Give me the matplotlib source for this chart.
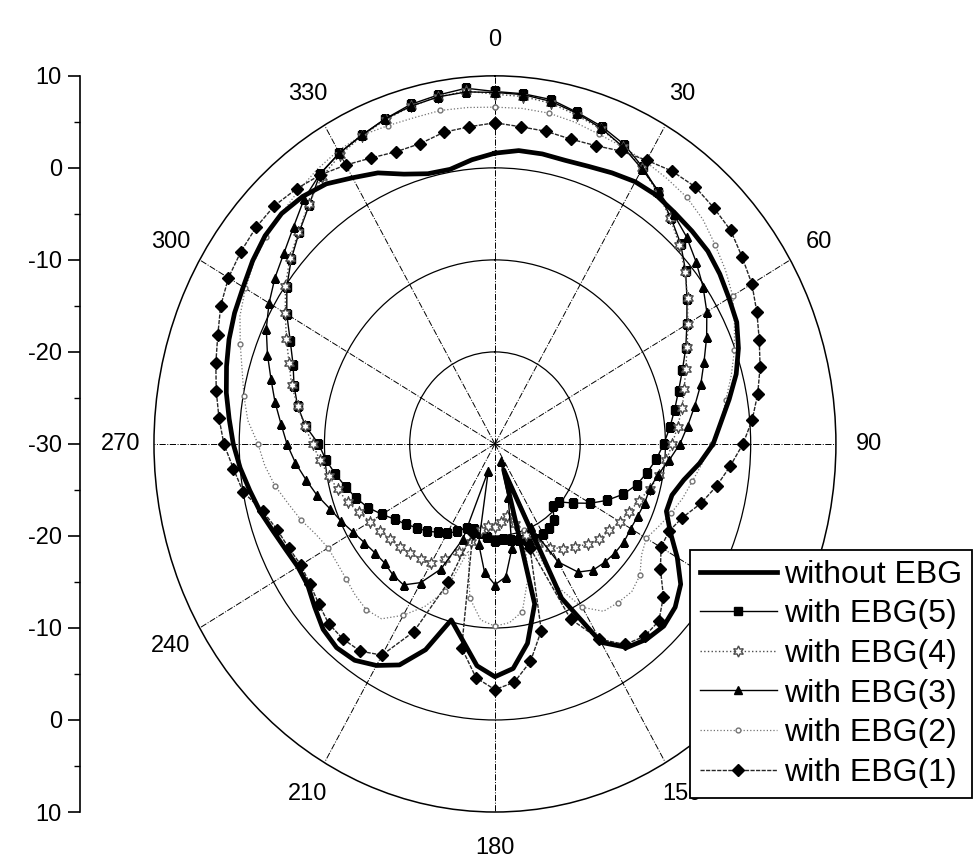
import numpy as np
import matplotlib
matplotlib.use("Agg")
import matplotlib.pyplot as plt

plt.rcParams['font.family'] = ['Liberation Sans', 'DejaVu Sans']

# angle in degrees (0 at top, clockwise), gain in dB
angles = list(range(0, 361, 5))

without_ebg = [1.6, 2.0, 2.0, 1.9, 2.1, 2.5, 2.9, 3.0, 2.8, 2.7, 2.6, 2.2,
               1.7, 1.3, 0.4, -0.7, -2.1, -3.4, -4.4, -5.9, -7.5, -8.5, -8.6, -7.3,
               -5.3, -3.4, -2.4, -2.0, -2.3, -3.0, -5.1, -11.5, -27.0, -12.0, -8.0, -5.5,
               -4.7, -5.8, -8.3, -10.2, -6.2, -3.5, -2.2, -1.3, -1.1, -1.5, -2.4, -3.2,
               -3.3, -2.9, -2.3, -1.5, -0.8, 0.0, 0.7, 1.3, 2.0, 2.6, 3.2, 3.7,
               4.1, 4.7, 5.2, 5.4, 5.1, 4.5, 3.4, 2.5, 1.2, 0.4, 0.3, 1.0, 1.6]

ebg5 = [8.3, 8.2, 8.0, 7.3, 6.7, 5.9, 4.7, 3.4, 2.1, 0.8, -0.8, -2.5,
        -4.0, -5.3, -6.6, -7.7, -8.6, -9.4, -10.2, -11.0, -11.9, -12.8, -14.0, -15.5,
        -17.1, -18.8, -20.2, -20.4, -19.2, -18.9, -18.7, -18.6, -18.8, -19.2, -19.4, -19.6,
        -19.4, -19.8, -20.2, -20.4, -20.3, -19.5, -18.8, -18.3, -17.6, -17.1, -16.4, -15.7,
        -14.7, -13.6, -12.7, -11.9, -11.0, -10.1, -9.3, -7.7, -6.5, -5.6, -4.8, -3.5,
        -1.8, -0.2, 1.2, 2.5, 3.9, 5.8, 6.5, 7.0, 7.6, 8.2, 8.5, 8.8, 8.3]

ebg4 = [8.0, 7.9, 7.6, 7.0, 6.4, 5.6, 4.6, 3.3, 2.0, 0.6, -0.9, -2.4,
        -3.9, -5.1, -6.2, -7.0, -7.7, -8.5, -9.2, -9.8, -10.4, -11.2, -12.0, -12.6,
        -13.1, -13.6, -14.0, -14.6, -15.4, -16.1, -17.0, -18.0, -19.5, -21.0, -22.0, -21.5,
        -21.0, -21.0, -20.5, -19.0, -17.5, -16.2, -15.1, -14.8, -14.5, -14.2, -13.9, -13.5,
        -13.1, -12.4, -11.6, -10.9, -10.2, -9.4, -8.6, -7.6, -6.5, -5.3, -4.3, -3.0,
        -1.6, 0.0, 1.4, 2.6, 4.0, 5.4, 6.3, 6.9, 7.5, 8.0, 8.3, 8.5, 8.0]

ebg3 = [8.2, 8.1, 7.8, 7.2, 6.5, 5.6, 4.5, 3.5, 2.6, 1.8, 0.8, -0.2,
        -1.3, -2.6, -3.9, -5.0, -6.2, -7.3, -8.3, -9.5, -10.6, -11.2, -11.3, -11.5,
        -11.6, -11.5, -11.6, -11.8, -12.1, -13.0, -15.2, -20.0, -28.0, -24.0, -18.5, -15.5,
        -14.7, -16.0, -19.0, -27.0, -19.0, -15.0, -12.6, -11.3, -11.4, -11.7, -11.6, -11.3,
        -10.8, -10.1, -9.4, -8.4, -7.5, -6.5, -5.6, -4.8, -3.8, -2.8, -1.6, -0.4,
        0.6, 1.5, 2.3, 3.4, 4.8, 5.8, 6.5, 7.0, 7.6, 8.0, 8.3, 8.4, 8.2]

ebg2 = [6.6, 6.6, 6.5, 6.2, 5.8, 5.6, 5.4, 5.2, 5.0, 4.5, 3.7, 3.0,
        2.2, 1.0, -0.1, -1.3, -2.5, -3.4, -4.5, -5.6, -6.5, -7.2, -8.0, -8.8,
        -9.5, -9.0, -7.8, -7.3, -7.5, -7.8, -9.5, -13.0, -20.0, -15.0, -11.5, -10.5,
        -10.2, -10.8, -13.0, -18.0, -13.0, -10.5, -8.5, -6.8, -6.5, -6.8, -7.2, -7.4,
        -7.4, -6.8, -5.8, -4.9, -3.8, -2.9, -2.2, -0.9, -0.1, 0.7, 1.8, 3.0,
        3.8, 4.5, 5.0, 5.4, 5.9, 6.4, 6.8, 7.0, 6.8, 6.7, 6.8, 6.7, 6.6]

ebg1 = [4.9, 4.6, 4.5, 4.3, 4.5, 5.1, 5.6, 6.2, 6.5, 6.3, 6.1, 5.4,
        4.8, 3.9, 3.0, 2.2, 1.3, 0.3, -0.9, -2.3, -3.6, -5.0, -6.6, -7.5,
        -7.5, -6.3, -4.2, -2.8, -2.7, -3.4, -5.5, -9.0, -18.0, -9.0, -6.0, -4.0,
        -3.3, -4.5, -7.5, -20.0, -14.0, -7.5, -3.5, -2.5, -2.3, -2.4, -3.0, -3.5,
        -3.7, -3.3, -2.8, -1.8, 0.0, 0.8, 1.8, 2.5, 3.2, 3.9, 4.6, 5.5,
        6.1, 6.4, 6.6, 6.6, 6.2, 5.7, 5.0, 4.3, 3.8, 3.8, 4.4, 4.6, 4.9]

theta_ticks = list(range(0, 360, 30))
# 120 sits fully under the legend in the original, so it is not written
theta_labels = [a for a in theta_ticks if a != 120]
left_ticks = list(range(-40, 41, 10))

th = np.deg2rad(angles)

fig = plt.figure(figsize=(9.77, 8.59), dpi=100)
ax = fig.add_axes([0.1576, 0.0547, 0.698, 0.857], projection='polar')
ax.set_aspect('auto')
ax.set_theta_zero_location('N')
ax.set_theta_direction(-1)
ax.set_ylim(-30, 10)

ax.set_xticks(np.deg2rad(theta_ticks))
ax.set_xticklabels([])
ax.set_xticks(np.deg2rad(np.arange(15, 360, 30)), minor=True)
ax.tick_params(axis='x', which='major', length=0)
ax.tick_params(axis='x', which='minor', direction='in', length=7, width=1)
ax.set_yticks([-20, -10, 0])
ax.set_yticklabels([])
ax.xaxis.grid(True, linestyle='-.', color='black', lw=0.7)
ax.yaxis.grid(True, linestyle='-', color='black', lw=0.9)
ax.spines['polar'].set_linewidth(1.1)

for a in theta_labels:
    ax.text(np.deg2rad(a), 13.9, str(a), ha='center', va='center',
            fontsize=17, clip_on=False)

ax.plot(th, without_ebg, color='black', lw=3.4, label='without EBG', zorder=6)
ax.plot(th, ebg5, color='black', lw=1.0, marker='s', ms=6, mfc='black',
        mec='black', label='with EBG(5)', zorder=5)
ax.plot(th, ebg4, color='0.3', lw=1.0, ls=':', marker=(6, 1, 0), ms=8,
        mfc='white', mec='0.3', label='with EBG(4)', zorder=5)
ax.plot(th, ebg3, color='black', lw=1.0, marker='^', ms=6, mfc='black',
        mec='black', label='with EBG(3)', zorder=5)
ax.plot(th, ebg2, color='0.45', lw=0.9, ls=':', marker='o', ms=3.5,
        mfc='white', mec='0.45', markevery=2, label='with EBG(2)', zorder=4)
ax.plot(th, ebg1, color='0.15', lw=1.0, ls=(0, (3, 1)), marker='D', ms=6,
        mfc='black', mec='black', label='with EBG(1)', zorder=5)

leg = ax.legend(loc='lower right', bbox_to_anchor=(972 / 977, 1 - 798 / 859),
                bbox_transform=fig.transFigure, fontsize=23, frameon=True,
                fancybox=False, edgecolor='black', framealpha=1,
                handlelength=2.4, handletextpad=0.22, labelspacing=0.3,
                borderpad=0.32, borderaxespad=0)
leg.get_frame().set_linewidth(1.3)
leg.set_zorder(10)

# left scale
ax2 = fig.add_axes([80 / 977, 0.0547, 0.0005, 0.857])
ax2.set_ylim(-40, 40)
for s in ['top', 'right', 'bottom']:
    ax2.spines[s].set_visible(False)
ax2.spines['left'].set_linewidth(1.2)
ax2.set_xticks([])
ax2.set_yticks(left_ticks)
ax2.set_yticklabels([str(-30 + abs(t)) for t in left_ticks])
ax2.set_yticks(list(range(-35, 40, 10)), minor=True)
ax2.tick_params(axis='y', which='major', length=9, width=1.2, labelsize=17, pad=4)
ax2.tick_params(axis='y', which='minor', length=4, width=1)
ax2.patch.set_visible(False)

fig.savefig('out.png', dpi=100)
